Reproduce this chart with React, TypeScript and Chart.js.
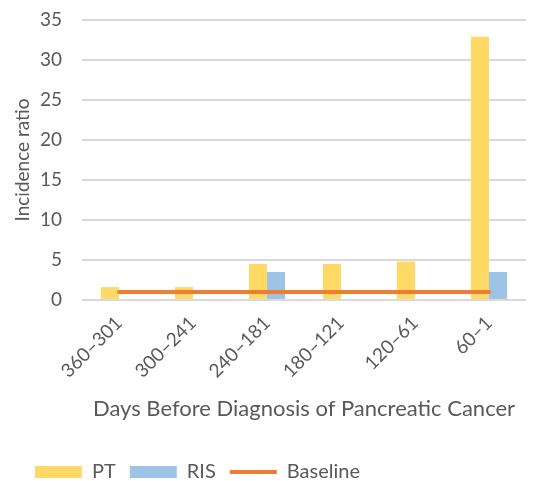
import React, { useEffect, useRef } from "react";
import { Chart, registerables } from "chart.js";

Chart.register(...registerables);

const categories = ["360–301", "300–241", "240–181", "180–121", "120–61", "60–1"];
const ptValues = [1.6, 1.6, 4.5, 4.5, 4.8, 32.9];
const risValues = [null, null, 3.5, null, null, 3.5];
const baselineValues = [1, 1, 1, 1, 1, 1];
const yTitle = "Incidence ratio";
const xTitle = "Days Before Diagnosis of Pancreatic Cancer";

const FONT = "Lato, 'Open Sans', sans-serif";
const TEXT = "#595959";

const legendShift = {
  id: "legendShift",
  afterLayout(chart: any) {
    if (chart.legend) chart.legend.left = 21;
  },
};

export default function App() {
  const ref = useRef<HTMLCanvasElement | null>(null);
  useEffect(() => {
    if (!ref.current) return;
    const chart = new Chart(ref.current, {
      type: "bar",
      data: {
        labels: categories,
        datasets: [
          {
            type: "bar",
            label: "PT",
            data: ptValues,
            backgroundColor: "#FFD966",
            categoryPercentage: 0.49,
            barPercentage: 1,
            order: 1,
            pointStyle: "rect",
          } as any,
          {
            type: "bar",
            label: "RIS",
            data: risValues,
            backgroundColor: "#9DC3E6",
            categoryPercentage: 0.49,
            barPercentage: 1,
            order: 1,
            pointStyle: "rect",
          } as any,
          {
            type: "line",
            label: "Baseline",
            data: baselineValues,
            borderColor: "#ED7D31",
            backgroundColor: "#ED7D31",
            borderWidth: 4,
            borderCapStyle: "round",
            pointRadius: 0,
            order: 0,
            pointStyle: "line",
          } as any,
        ],
      },
      plugins: [legendShift],
      options: {
        responsive: false,
        animation: false,
        layout: { padding: { left: 13, right: 10, top: 20, bottom: -11 } },
        plugins: {
          tooltip: { enabled: false },
          legend: {
            position: "bottom",
            align: "start",
            labels: {
              usePointStyle: true,
              pointStyleWidth: 47,
              boxHeight: 12,
              color: TEXT,
              font: { family: FONT, size: 20 },
              padding: 14,
              sort: (a: any, b: any) => a.datasetIndex - b.datasetIndex,
            },
          },
        },
        scales: {
          x: {
            grid: { display: false },
            border: { display: false },
            afterFit: (s: any) => {
              s.paddingLeft = 0;
              s.paddingRight = 0;
            },
            ticks: {
              color: TEXT,
              font: { family: FONT, size: 19 },
              minRotation: 45,
              maxRotation: 45,
              padding: 4,
            },
            title: {
              display: true,
              text: xTitle,
              color: TEXT,
              font: { family: FONT, size: 22 },
              padding: { top: 9, bottom: 26 },
            },
          },
          y: {
            min: 0,
            max: 35,
            afterFit: (s: any) => {
              s.paddingTop = 0;
              s.paddingBottom = 0;
              s.width = 69;
            },
            ticks: {
              stepSize: 5,
              color: TEXT,
              font: { family: FONT, size: 19 },
              padding: 20,
            },
            grid: { color: "#D9D9D9", lineWidth: 2, drawTicks: false },
            border: { display: false },
            title: {
              display: true,
              text: yTitle,
              color: TEXT,
              font: { family: FONT, size: 19, lineHeight: 1 },
              padding: { top: 0, bottom: 4 },
            },
          },
        },
      },
    });
    return () => chart.destroy();
  }, []);
  return (
    <div style={{ position: "fixed", left: 0, top: 0, width: 536, height: 481, background: "#fff" }}>
      <canvas ref={ref} width={536} height={481} />
    </div>
  );
}
